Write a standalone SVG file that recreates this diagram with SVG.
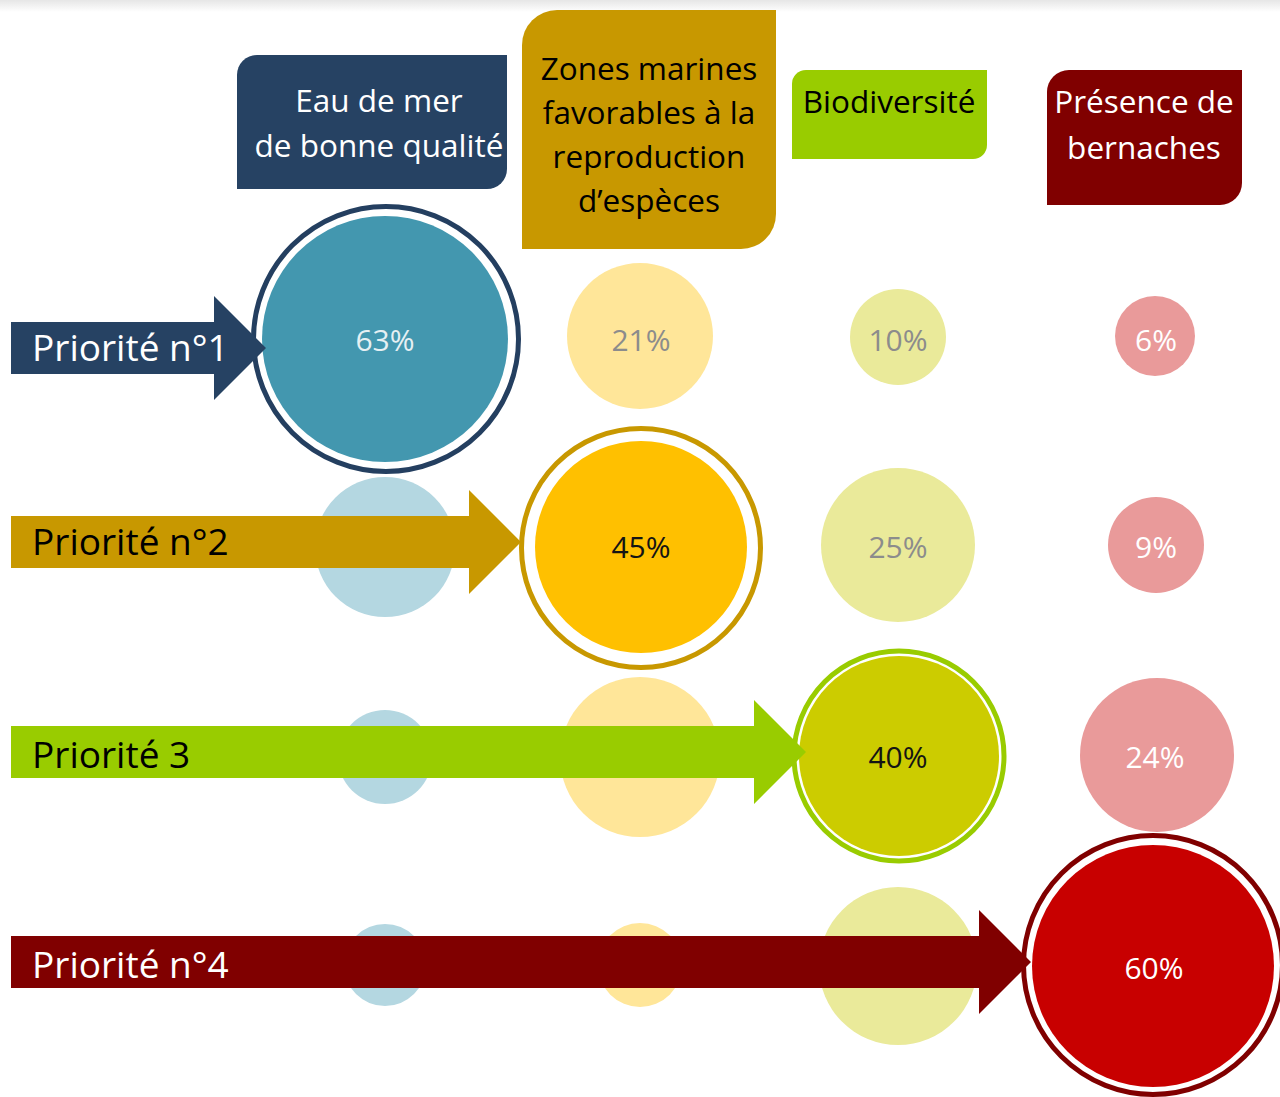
<svg xmlns="http://www.w3.org/2000/svg" width="1280" height="1097" viewBox="0 0 1280 1097">
  <defs>
    <linearGradient id="topShade" x1="0" y1="0" x2="0" y2="1">
      <stop offset="0" stop-color="#e6e6e6"/>
      <stop offset="1" stop-color="#ffffff"/>
    </linearGradient>
  </defs>
  <style>
    .hdr { font-family: "Open Sans", "Noto Sans", "Liberation Sans", sans-serif; font-size: 31.5px; text-anchor: middle; }
    .pri { font-family: "Open Sans", "Noto Sans", "Liberation Sans", sans-serif; font-size: 37px; }
    .pct { font-family: "Open Sans", "Noto Sans", "Liberation Sans", sans-serif; font-size: 30px; text-anchor: middle; }
    .ring { fill: none; stroke-width: 5; }
    .gray { fill: #8c8c8c; }
    .wht { fill: #ffffff; }
    .blk { fill: #141414; }
  </style>
  <rect x="0" y="0" width="1280" height="1097" fill="#ffffff"/>
  <rect x="0" y="0" width="1280" height="12" fill="url(#topShade)"/>

  <!-- Column headers -->
  <g id="header-eau">
    <path d="M257,55 H507 V169 A20,20 0 0 1 487,189 H237 V75 A20,20 0 0 1 257,55 Z" fill="#264263"/>
    <text class="hdr" x="379" y="112" fill="#ffffff">Eau de mer</text>
    <text class="hdr" x="379" y="157" fill="#ffffff">de bonne qualité</text>
  </g>
  <g id="header-zones">
    <path d="M557,10 H776 V214 A35,35 0 0 1 741,249 H522 V45 A35,35 0 0 1 557,10 Z" fill="#c89800"/>
    <text class="hdr" x="649" y="80" fill="#000000">Zones marines</text>
    <text class="hdr" x="649" y="124" fill="#000000">favorables à la</text>
    <text class="hdr" x="649" y="168" fill="#000000">reproduction</text>
    <text class="hdr" x="649" y="212" fill="#000000">d’espèces</text>
  </g>
  <g id="header-biodiversite">
    <path d="M806,70 H987 V145 A14,14 0 0 1 973,159 H792 V84 A14,14 0 0 1 806,70 Z" fill="#99cc00"/>
    <text class="hdr" x="889" y="113" fill="#000000">Biodiversité</text>
  </g>
  <g id="header-bernaches">
    <path d="M1069,70 H1242 V183 A22,22 0 0 1 1220,205 H1047 V92 A22,22 0 0 1 1069,70 Z" fill="#800000"/>
    <text class="hdr" x="1144" y="113" fill="#ffffff">Présence de</text>
    <text class="hdr" x="1144" y="159" fill="#ffffff">bernaches</text>
  </g>

  <!-- Row 1 -->
  <g id="r1-eau">
    <circle cx="385" cy="339" r="123" fill="#4397af"/>
    <circle class="ring" cx="386" cy="339" r="132.5" stroke="#243f60"/>
    <text class="pct" x="385" y="351" fill="#e6f0f3">63%</text>
  </g>
  <g id="r1-zones">
    <circle cx="640" cy="336" r="73" fill="#ffe699"/>
    <text class="pct gray" x="641" y="351">21%</text>
  </g>
  <g id="r1-bio">
    <circle cx="898" cy="337" r="48" fill="#eaea9a"/>
    <text class="pct gray" x="898" y="351">10%</text>
  </g>
  <g id="r1-bern">
    <circle cx="1155" cy="336" r="40" fill="#e99a9a"/>
    <text class="pct wht" x="1156" y="351">6%</text>
  </g>

  <!-- Row 2 -->
  <g id="r2-eau">
    <circle cx="385" cy="547" r="70" fill="#b4d7e1"/>
  </g>
  <g id="r2-zones">
    <circle cx="641" cy="547" r="106" fill="#ffc000"/>
    <circle class="ring" cx="641" cy="548" r="119.5" stroke="#c89800"/>
    <text class="pct blk" x="641" y="558">45%</text>
  </g>
  <g id="r2-bio">
    <circle cx="898" cy="545" r="77" fill="#eaea9a"/>
    <text class="pct gray" x="898" y="558">25%</text>
  </g>
  <g id="r2-bern">
    <circle cx="1156" cy="545" r="48" fill="#e99a9a"/>
    <text class="pct wht" x="1156" y="558">9%</text>
  </g>

  <!-- Row 3 -->
  <g id="r3-eau">
    <circle cx="385" cy="757" r="47" fill="#b4d7e1"/>
  </g>
  <g id="r3-zones">
    <circle cx="640" cy="757" r="80" fill="#ffe699"/>
  </g>
  <g id="r3-bio">
    <circle cx="899" cy="756" r="100" fill="#cccc00"/>
    <circle class="ring" cx="899" cy="756" r="105" stroke="#99cc00"/>
    <text class="pct blk" x="898" y="768">40%</text>
  </g>
  <g id="r3-bern">
    <circle cx="1157" cy="755" r="77" fill="#e99a9a"/>
    <text class="pct wht" x="1155" y="768">24%</text>
  </g>

  <!-- Row 4 -->
  <g id="r4-eau">
    <circle cx="385" cy="965" r="41" fill="#b4d7e1"/>
  </g>
  <g id="r4-zones">
    <circle cx="640" cy="965" r="42" fill="#ffe699"/>
  </g>
  <g id="r4-bio">
    <circle cx="898" cy="966" r="79" fill="#eaea9a"/>
  </g>
  <g id="r4-bern">
    <circle cx="1153" cy="966" r="121" fill="#c80000"/>
    <circle class="ring" cx="1153" cy="965" r="129.5" stroke="#800000"/>
    <text class="pct wht" x="1154" y="979">60%</text>
  </g>

  <!-- Priority arrows -->
  <g id="connectors">
    <g id="priorite-1">
      <polygon points="11,322 214,322 214,296 266,348 214,400 214,374 11,374" fill="#264263"/>
      <text class="pri" x="32" y="361" fill="#ffffff">Priorité n°1</text>
    </g>
    <g id="priorite-2">
      <polygon points="11,516 469,516 469,490 521,542 469,594 469,568 11,568" fill="#c89800"/>
      <text class="pri" x="32" y="555" fill="#000000">Priorité n°2</text>
    </g>
    <g id="priorite-3">
      <polygon points="11,726 754,726 754,700 806,752 754,804 754,778 11,778" fill="#99cc00"/>
      <text class="pri" x="32" y="768" fill="#000000">Priorité 3</text>
    </g>
    <g id="priorite-4">
      <polygon points="11,936 979,936 979,910 1031,962 979,1014 979,988 11,988" fill="#800000"/>
      <text class="pri" x="32" y="978" fill="#ffffff">Priorité n°4</text>
    </g>
  </g>
</svg>
